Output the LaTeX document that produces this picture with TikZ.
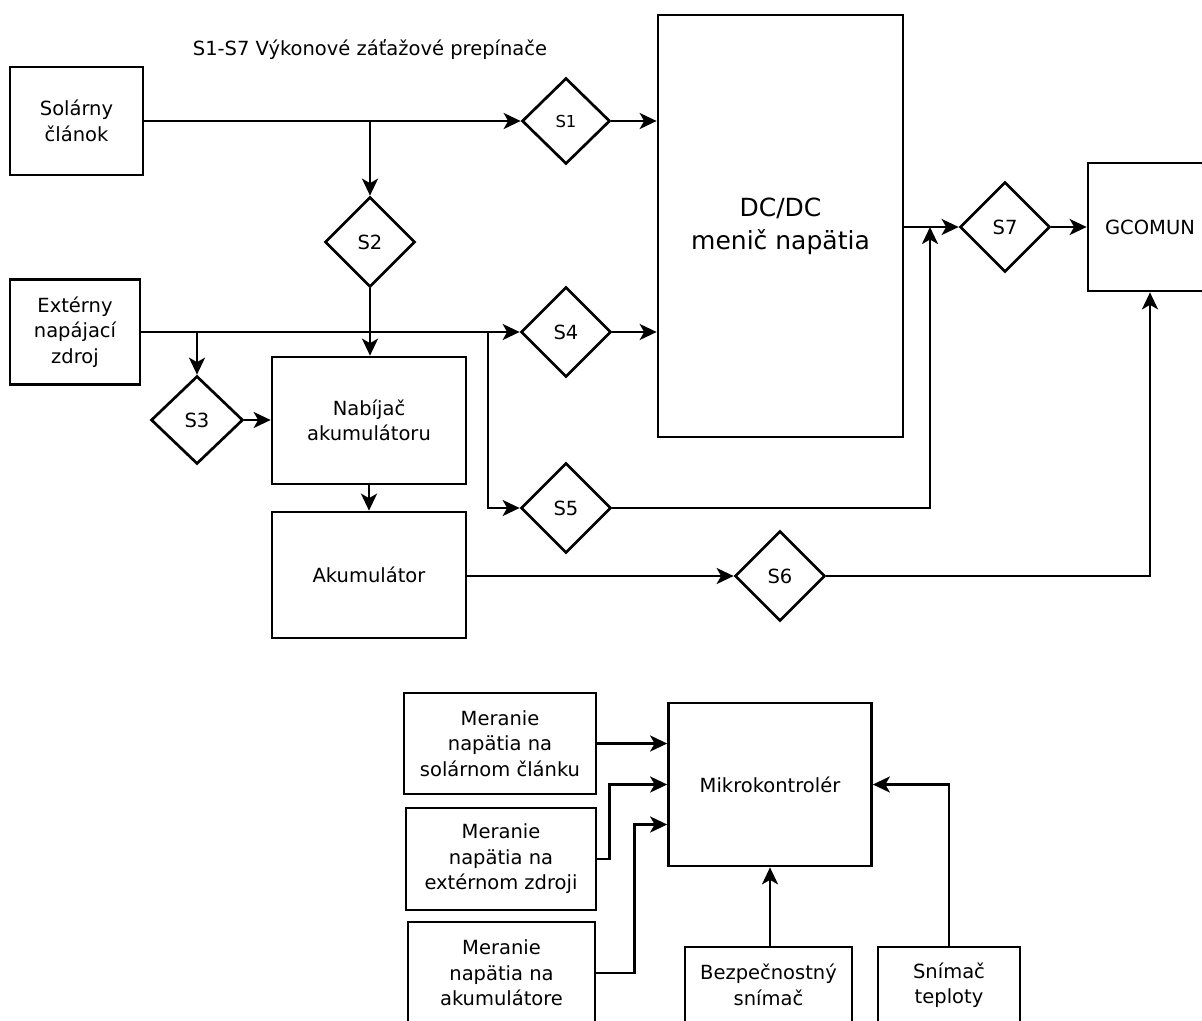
\documentclass[tikz,border=0pt]{standalone}
\usepackage{fontspec}
\setmainfont{DejaVu Sans}
\usetikzlibrary{arrows.meta,shapes.geometric}

\tikzset{
  blk/.style={draw, line width=2.7pt, align=center, inner sep=0pt,
              font=\fontsize{19.5}{25.5}\selectfont},
  sw/.style={draw, diamond, aspect=1, line width=2.7pt, inner sep=0pt,
             minimum width=90pt, minimum height=90pt,
             font=\fontsize{19.5}{25.5}\selectfont},
  flow/.style={line width=2.7pt, -{Stealth[length=17pt,width=16pt,inset=4.5pt]}},
}

\begin{document}
\begin{tikzpicture}[x=1pt,y=-1pt]
\useasboundingbox (0,0) rectangle (1202,1020);
\fill[white] (0,0) rectangle (1202,1020);
\clip (0,0) rectangle (1202,1020);

% power path
\node[font=\fontsize{19.5}{25.5}\selectfont] (title) at (370,50) {S1-S7 Výkonové záťažové prepínače};

\node[blk, minimum width=133pt, minimum height=108pt] (sol) at (76.5,121) {Solárny\\článok};
\node[blk, minimum width=130pt, minimum height=105pt] (ext) at (75,332) {Extérny\\napájací\\zdroj};
\node[blk, minimum width=245pt, minimum height=422pt,
      font=\fontsize{25}{33}\selectfont] (dcdc) at (780.5,226) {DC/DC\\menič napätia};
\node[blk, minimum width=124pt, minimum height=128pt] (gcomun) at (1150,227) {GCOMUN};
\node[blk, minimum width=194pt, minimum height=127pt] (nab) at (369,420.5) {Nabíjač\\akumulátoru};
\node[blk, minimum width=194pt, minimum height=126pt] (akum) at (369,575) {Akumulátor};

\node[sw, minimum width=88pt, minimum height=86pt, font=\fontsize{16.5}{20}\selectfont] (s1) at (566,121) {S1};
\node[sw] (s2) at (370,242) {S2};
\node[sw, minimum width=92pt, minimum height=88pt] (s3) at (197,420) {S3};
\node[sw] (s4) at (566,332) {S4};
\node[sw] (s5) at (566,508) {S5};
\node[sw] (s6) at (780,576) {S6};
\node[sw] (s7) at (1005,227) {S7};

\coordinate (jsol) at (370,121);
\coordinate (jext2) at (488,332);
\coordinate (js7) at (930,227);

\draw[flow] (sol.east) -- (s1.west);
\draw[flow] (jsol) -- (s2.north);
\draw[flow] (s1.east) -- (s1.east -| dcdc.west);
\draw[flow] (s2.south) -- (s2.south |- nab.north);
\draw[flow] (ext.east) -- (s4.west);
\draw[flow] (s3.north |- ext.east) -- (s3.north);
\draw[flow] (jext2) |- (s5.west);
\draw[flow] (s4.east) -- (s4.east -| dcdc.west);
\draw[flow] (s3.east) -- (s3.east -| nab.west);
\draw[flow] (nab.south) -- (akum.north);
\draw[flow] (akum.east |- s6.west) -- (s6.west);
\draw[flow] (s6.east) -| (gcomun.south);
\draw[flow] (dcdc.east |- s7.west) -- (s7.west);
\draw[flow] (s5.east) -| (js7);
\draw[flow] (s7.east) -- (gcomun.west);

% measurement and control
\node[blk, minimum width=203pt, minimum height=163pt] (mk) at (770,784.5) {Mikrokontrolér};
\node[blk, minimum width=192pt, minimum height=101pt] (m1) at (500,743.5) {Meranie\\napätia na\\solárnom článku};
\node[blk, minimum width=190pt, minimum height=102pt] (m2) at (501,859) {Meranie\\napätia na\\extérnom zdroji};
\node[blk, minimum width=187pt, minimum height=102pt] (m3) at (501.5,973) {Meranie\\napätia na\\akumulátore};
\node[blk, minimum width=167pt, minimum height=76pt] (bz) at (768.5,985) {Bezpečnostný\\snímač};
\node[blk, minimum width=142pt, minimum height=76pt] (tp) at (949,985) {Snímač\\teploty};

\draw[flow] (m1.east) -- (m1.east -| mk.west);
\draw[flow] (m2.east) -- ++(12,0) |- (mk.west);
\draw[flow] (m3.east) -- ++(38,0) |- ([yshift=-40pt]mk.west);
\draw[flow] (mk.south |- bz.north) -- (mk.south);
\draw[flow] (tp.north) |- (mk.east);
\end{tikzpicture}
\end{document}
